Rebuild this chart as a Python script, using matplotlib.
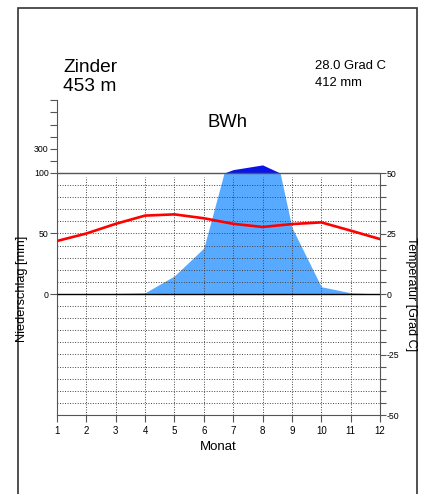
import numpy as np
import matplotlib
matplotlib.use("Agg")
import matplotlib.pyplot as plt
from matplotlib.patches import Rectangle

plt.rcParams['font.family'] = ['Liberation Sans', 'DejaVu Sans']

# ---- data ----
months = np.arange(1, 13)
precip_mm = np.array([0, 0, 0.5, 1, 15, 38, 128, 167, 55, 6, 1, 0])
temp_c = np.array([21.9, 25.0, 29.0, 32.4, 32.9, 31.3, 29.0, 27.7, 28.9, 29.6, 26.2, 22.7])
station = "Zinder"
elevation = "453 m"
mean_temp_text = "28.0 Grad C"
total_precip_text = "412 mm"
climate_class = "BWh"
precip_tick_values = [0, 50, 100, 300]
precip_minor_values = [200, 300, 400, 500, 600, 700]
temp_tick_labels = [-50, -25, 0, 25, 50]

W, H = 423, 494
light_blue = '#57aaff'
dark_blue = '#0a14e6'


def comp(p):
    p = np.asarray(p, dtype=float)
    return np.where(p <= 100, p, 100 + (p - 100) / 10.0)


fig = plt.figure(figsize=(W / 100, H / 100), dpi=100)
x0, x1 = 57, 380
ytop, ybot = 100.4, 415
ax = fig.add_axes([x0 / W, (H - ybot) / H, (x1 - x0) / W, (ybot - ytop) / H])
ax.set_xlim(1, 12)
ax.set_ylim(-100, 160)

# precipitation fills
lb = ax.fill_between(months, 0, precip_mm, color=light_blue, lw=0, zorder=1)
clip = Rectangle((1, -100), 11, 200, transform=ax.transData)
lb.set_clip_path(clip)
ax.fill_between(months, 100, 100 + (precip_mm - 100) / 10.0, where=precip_mm > 100,
                interpolate=True, color=dark_blue, lw=0, zorder=1)

# grid
grid_kw = dict(color='#444444', lw=0.7, linestyles=[(0, (1, 1.6))], zorder=2)
hy = [v for v in range(-90, 100, 10) if v != 0]
ax.hlines(hy, 1, 12, **grid_kw)
ax.vlines(months[1:-1], -100, 97, **grid_kw)
ax.hlines(0, 1, 12, color='black', lw=1.0, zorder=3)
ax.hlines(100, 1, 12, color='#555555', lw=1.0, zorder=3)

# spines
for s in ['top', 'right']:
    ax.spines[s].set_visible(False)
ax.spines['left'].set_bounds(-100, 160)
ax.spines['left'].set_color('#555555')
ax.spines['bottom'].set_color('#555555')

ax.set_yticks(list(comp(precip_tick_values)))
ax.set_yticklabels([str(v) for v in precip_tick_values])
ax.set_yticks(list(comp(precip_minor_values)), minor=True)
ax.tick_params(axis='y', which='both', length=5, width=0.8, color='#555555',
               labelsize=6.3, pad=1)
ax.set_xticks(months)
ax.set_xticklabels([str(m) for m in months])
ax.tick_params(axis='x', length=5, width=0.8, color='#555555', labelsize=7, pad=3)

# temperature axis
ax2 = ax.twinx()
ax2.set_position(ax.get_position())
ax2.set_ylim(-50, 80)
for s in ['top', 'left', 'bottom']:
    ax2.spines[s].set_visible(False)
ax2.spines['right'].set_bounds(-50, 50)
ax2.spines['right'].set_color('#555555')
ax2.set_yticks(np.arange(-50, 51, 5))
ax2.set_yticklabels([str(v) if v in temp_tick_labels else '' for v in np.arange(-50, 51, 5)])
ax2.tick_params(axis='y', length=4, width=0.8, color='#555555', labelsize=6.3, pad=1)
ax2.plot(months, temp_c, color='#ff0000', lw=1.9, zorder=5, solid_joinstyle='round')

# texts
def ft(x, y, s, **kw):
    fig.text(x / W, 1 - y / H, s, **kw)

ft(63, 71.7, station, fontsize=13.8, va='baseline', ha='left')
ft(63, 90.7, elevation, fontsize=13.8, va='baseline', ha='left')
ft(315, 69.3, mean_temp_text, fontsize=9.4, va='baseline', ha='left')
ft(315, 86, total_precip_text, fontsize=9.4, va='baseline', ha='left')
ft(227, 127.3, climate_class, fontsize=13.3, va='baseline', ha='center')
ft(218.5, 447, "Monat", fontsize=9.5, va='center', ha='center')
ft(22, 289, "Niederschlag [mm]", fontsize=9.2, va='center', ha='center', rotation=90)
ft(411, 294, "Temperatur [Grad C]", fontsize=9, va='center', ha='center', rotation=270)

# outer frame
fig.patches.append(Rectangle((17.5 / W, -0.05), (416.7 - 17.5) / W, (H - 8) / H + 0.05,
                             transform=fig.transFigure, fill=False,
                             edgecolor='#333333', lw=1.2))

fig.savefig('out.png', dpi=100)
